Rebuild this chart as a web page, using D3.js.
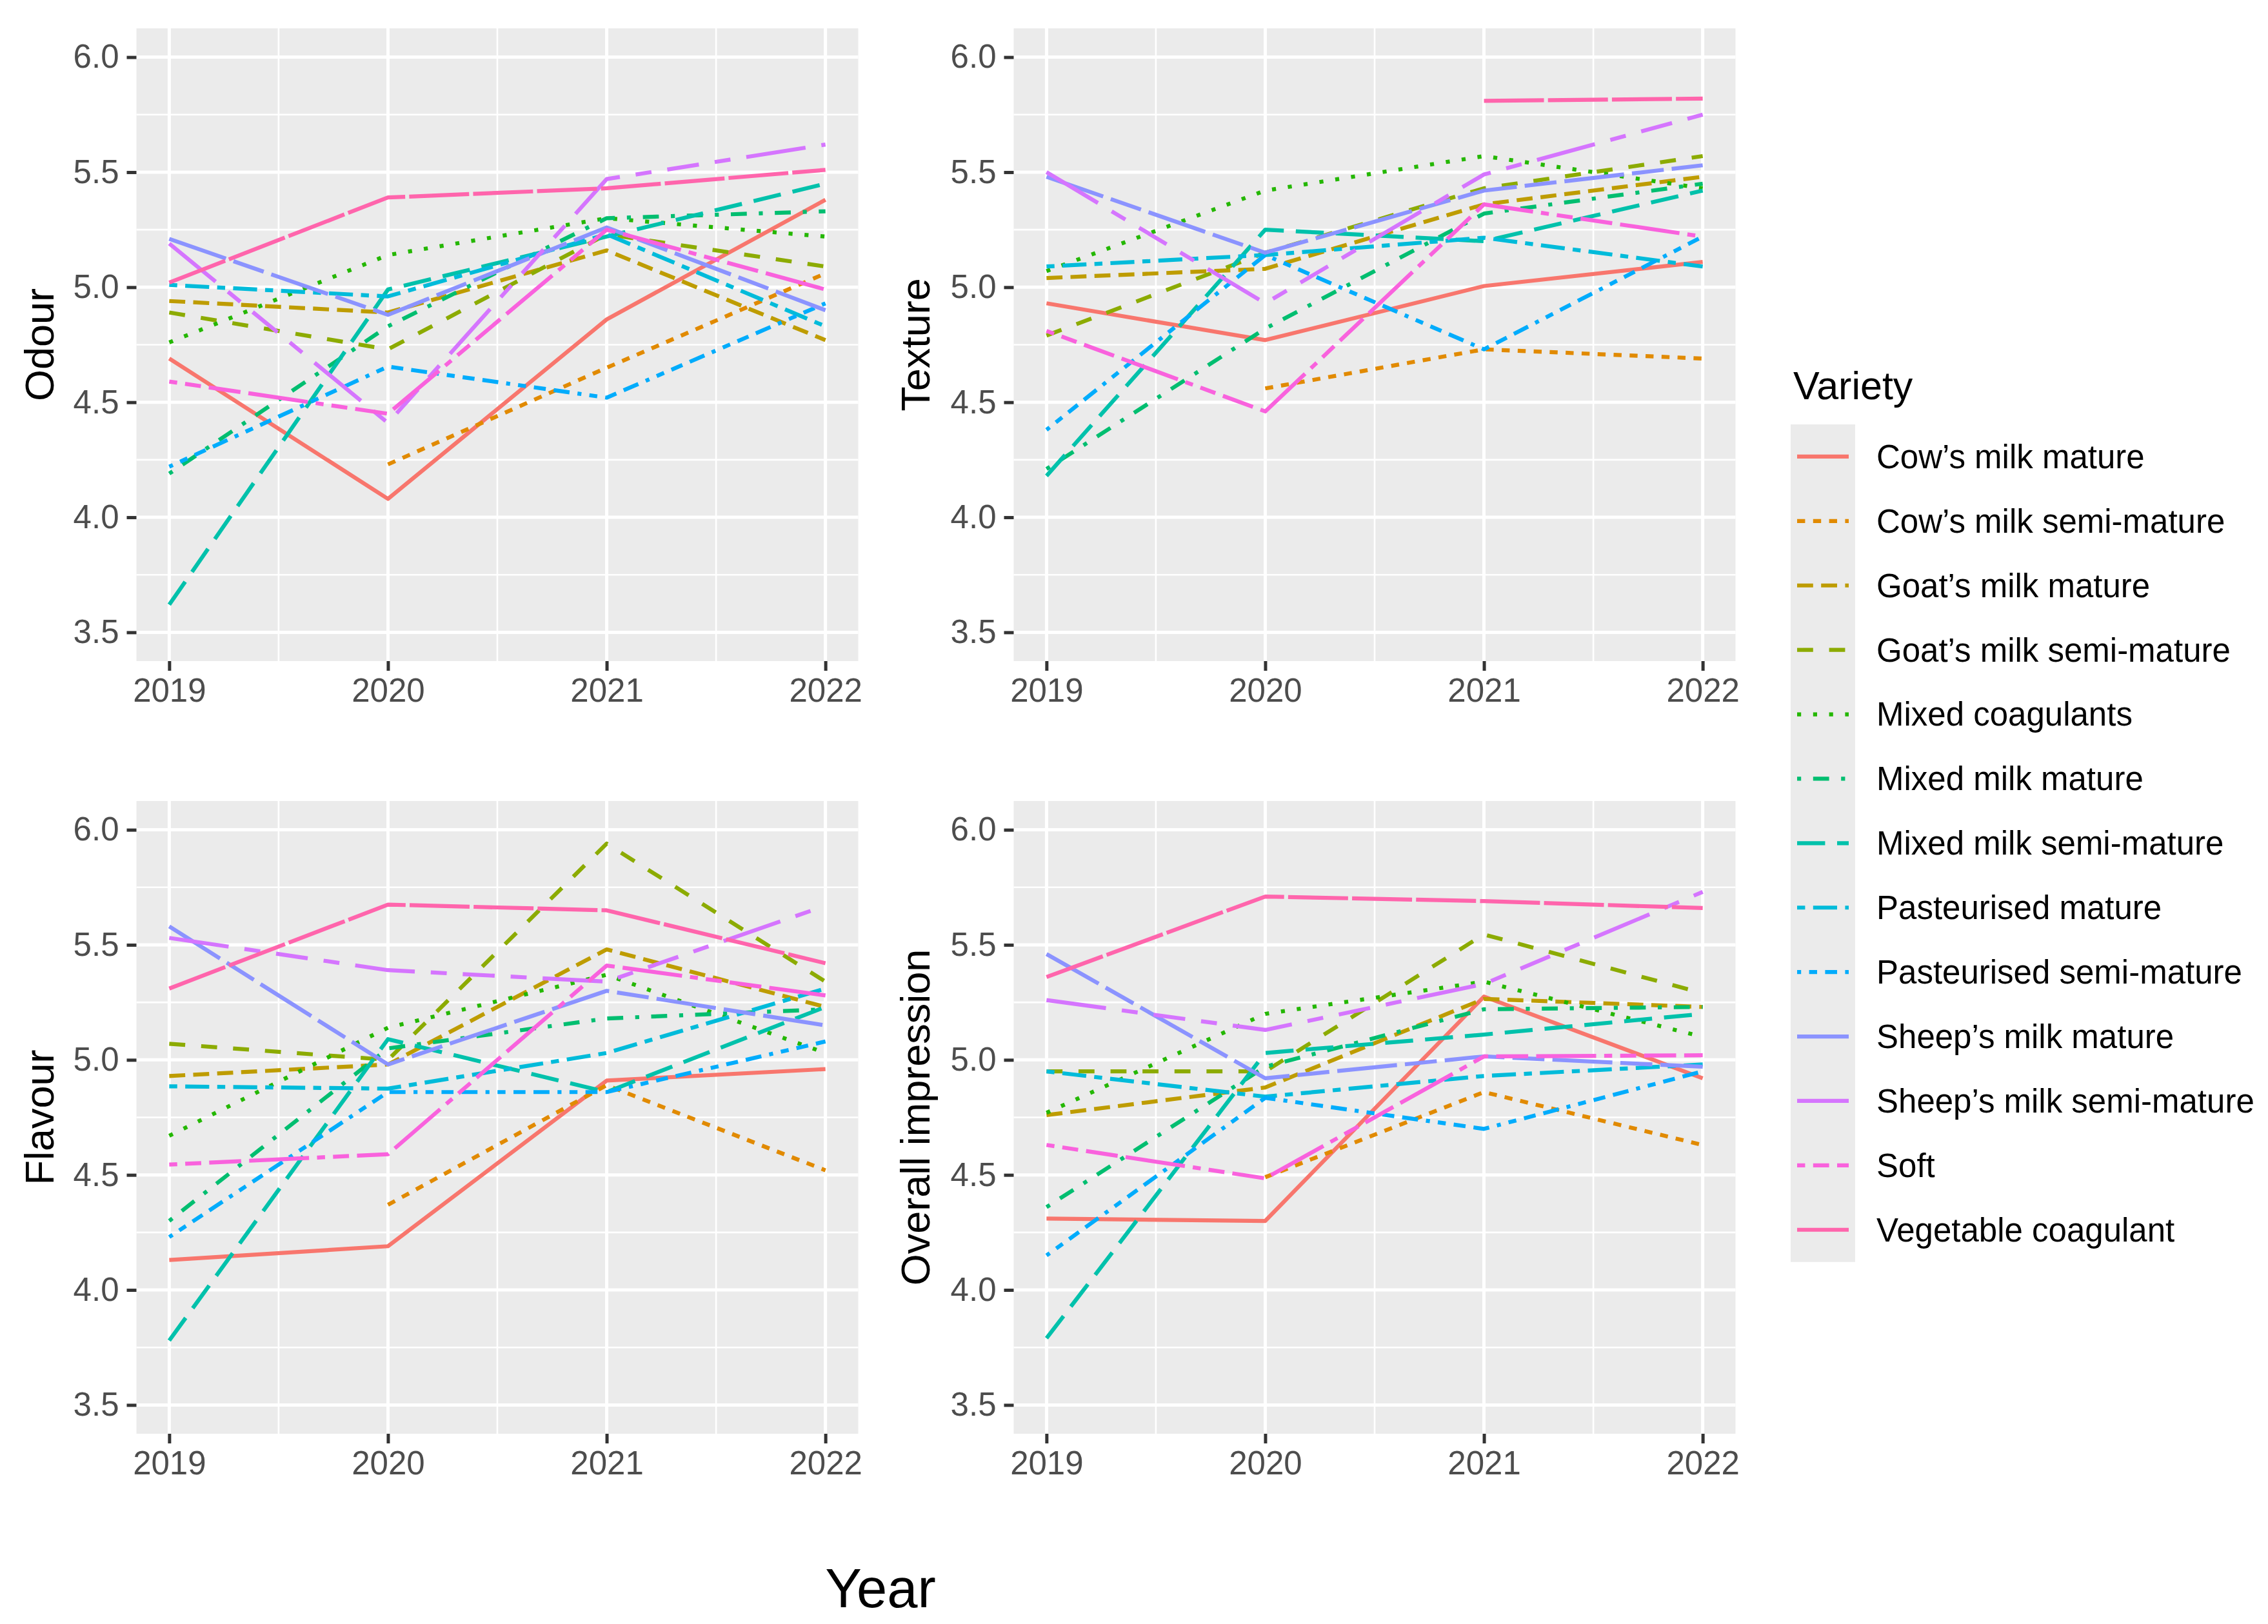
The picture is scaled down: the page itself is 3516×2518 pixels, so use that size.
<!DOCTYPE html>
<html>
<head>
<meta charset="utf-8">
<script src="https://cdn.jsdelivr.net/npm/d3@7"></script>
<style>
  body { margin: 0; background: #fff; }
  text { font-family: 'Liberation Sans', Arial, Helvetica, sans-serif; }
</style>
</head>
<body>
<svg id="chart" width="3516" height="2518"></svg>
<script>
// ---- data ----
var years = [2019, 2020, 2021, 2022];
var yTicks = [3.5, 4.0, 4.5, 5.0, 5.5, 6.0];

var varieties = ["Cow\u2019s milk mature", "Cow\u2019s milk semi-mature", "Goat\u2019s milk mature",
  "Goat\u2019s milk semi-mature", "Mixed coagulants", "Mixed milk mature", "Mixed milk semi-mature",
  "Pasteurised mature", "Pasteurised semi-mature", "Sheep\u2019s milk mature",
  "Sheep\u2019s milk semi-mature", "Soft", "Vegetable coagulant"];

// ggplot hue palette for 13 levels
var varietyColors = ['#F8766D', '#E18A00', '#BE9C00', '#8CAB00', '#24B700', '#00BE70', '#00C1AB',
  '#00BBDA', '#00ACFC', '#8B93FF', '#D575FE', '#F962DD', '#FF65AC'];

// ggplot default linetype sequence (hex dash codes)
var varietyLinetypes = ['solid', '22', '42', '44', '13', '1343', '73', '2262', '12223242',
  'F282', 'F4448444', '224282F2', 'F1'];

// one row per variety, one value per year (null = not assessed)
var odour = [
  [4.69, 4.08, 4.86, 5.38],
  [null, 4.23, 4.65, 5.06],
  [4.94, 4.89, 5.16, 4.77],
  [4.89, 4.73, 5.23, 5.09],
  [4.76, 5.14, 5.30, 5.22],
  [4.19, 4.83, 5.30, 5.33],
  [3.62, 4.99, 5.22, 5.45],
  [5.01, 4.96, 5.23, 4.83],
  [4.22, 4.655, 4.52, 4.93],
  [5.21, 4.88, 5.26, 4.90],
  [5.19, 4.41, 5.47, 5.62],
  [4.59, 4.45, 5.25, 4.99],
  [5.02, 5.39, 5.43, 5.51]
];
var texture = [
  [4.93, 4.77, 5.005, 5.11],
  [null, 4.56, 4.73, 4.69],
  [5.04, 5.08, 5.36, 5.48],
  [4.79, 5.15, 5.43, 5.57],
  [5.07, 5.42, 5.57, 5.43],
  [4.21, 4.82, 5.32, 5.45],
  [4.18, 5.25, 5.20, 5.42],
  [5.09, 5.14, 5.215, 5.09],
  [4.38, 5.14, 4.73, 5.22],
  [5.48, 5.15, 5.42, 5.53],
  [5.50, 4.93, 5.49, 5.75],
  [4.81, 4.46, 5.36, 5.22],
  [null, null, 5.81, 5.82]
];
var flavour = [
  [4.13, 4.19, 4.91, 4.96],
  [null, 4.37, 4.89, 4.52],
  [4.93, 4.98, 5.48, 5.23],
  [5.07, 5.00, 5.94, 5.34],
  [4.67, 5.14, 5.37, 5.03],
  [4.30, 5.05, 5.18, 5.22],
  [3.78, 5.09, 4.86, 5.23],
  [4.885, 4.875, 5.03, 5.31],
  [4.23, 4.86, 4.86, 5.08],
  [5.58, 4.98, 5.30, 5.15],
  [5.53, 5.39, 5.34, 5.67],
  [4.545, 4.59, 5.41, 5.28],
  [5.31, 5.675, 5.65, 5.42]
];
var overall = [
  [4.31, 4.30, 5.275, 4.92],
  [null, 4.49, 4.86, 4.63],
  [4.76, 4.88, 5.265, 5.23],
  [4.95, 4.95, 5.545, 5.29],
  [4.77, 5.20, 5.34, 5.10],
  [4.36, 4.97, 5.22, 5.23],
  [3.79, 5.03, 5.11, 5.20],
  [4.95, 4.84, 4.93, 4.98],
  [4.15, 4.835, 4.70, 4.95],
  [5.46, 4.92, 5.015, 4.97],
  [5.26, 5.13, 5.33, 5.73],
  [4.63, 4.485, 5.015, 5.02],
  [5.36, 5.71, 5.69, 5.66]
];

var attributeNames = ['Odour', 'Texture', 'Flavour', 'Overall impression'];
var attributeData = [odour, texture, flavour, overall];

// ---- layout ----
var LW = 6.2;                       // data line width, also the dash unit
var colX = [211.5, 1571.5], panelW = 1119;
var rowY = [44, 1242], panelH = 981;
var tickLen = 15, tickPad = 12;
var fontTick = 51, fontTitle = 63, fontLegend = 51;

function dashArray(lt) {
  if (lt === 'solid') return null;
  return lt.split('').map(function(c) { return parseInt(c, 16) * LW; }).join(' ');
}

var svg = d3.select('#chart');

attributeNames.forEach(function(name, p) {
  var col = p % 2, row = Math.floor(p / 2);
  var g = svg.append('g')
    .attr('transform', 'translate(' + colX[col] + ',' + rowY[row] + ')');

  var x = d3.scaleLinear().domain([2019 - 0.15, 2022 + 0.15]).range([0, panelW]);
  var y = d3.scaleLinear().domain([3.375, 6.125]).range([panelH, 0]);

  g.append('rect').attr('width', panelW).attr('height', panelH).attr('fill', '#EBEBEB');

  // minor grid
  [3.75, 4.25, 4.75, 5.25, 5.75].forEach(function(v) {
    g.append('line').attr('x1', 0).attr('x2', panelW).attr('y1', y(v)).attr('y2', y(v))
      .attr('stroke', '#fff').attr('stroke-width', 2.6);
  });
  [2019.5, 2020.5, 2021.5].forEach(function(v) {
    g.append('line').attr('y1', 0).attr('y2', panelH).attr('x1', x(v)).attr('x2', x(v))
      .attr('stroke', '#fff').attr('stroke-width', 2.6);
  });
  // major grid
  yTicks.forEach(function(v) {
    g.append('line').attr('x1', 0).attr('x2', panelW).attr('y1', y(v)).attr('y2', y(v))
      .attr('stroke', '#fff').attr('stroke-width', 5);
  });
  years.forEach(function(v) {
    g.append('line').attr('y1', 0).attr('y2', panelH).attr('x1', x(v)).attr('x2', x(v))
      .attr('stroke', '#fff').attr('stroke-width', 5);
  });

  // axes
  var yAxis = g.append('g')
    .call(d3.axisLeft(y).tickValues(yTicks).tickFormat(d3.format('.1f'))
      .tickSize(tickLen).tickPadding(tickPad));
  var xAxis = g.append('g').attr('transform', 'translate(0,' + panelH + ')')
    .call(d3.axisBottom(x).tickValues(years).tickFormat(d3.format('d'))
      .tickSize(tickLen).tickPadding(tickPad));
  [yAxis, xAxis].forEach(function(a) {
    a.select('.domain').remove();
    a.selectAll('.tick line').attr('stroke', '#333333').attr('stroke-width', 5);
    a.selectAll('.tick text').attr('fill', '#4D4D4D')
      .style('font-size', fontTick + 'px')
      .style('font-family', "'Liberation Sans', Arial, Helvetica, sans-serif");
  });

  // series
  var line = d3.line()
    .defined(function(d) { return d.v != null; })
    .x(function(d) { return x(d.year); })
    .y(function(d) { return y(d.v); });

  attributeData[p].forEach(function(vals, i) {
    var pts = vals.map(function(v, j) { return {year: years[j], v: v}; });
    g.append('path').datum(pts)
      .attr('d', line)
      .attr('fill', 'none')
      .attr('stroke', varietyColors[i])
      .attr('stroke-width', LW)
      .attr('stroke-linecap', 'butt')
      .attr('stroke-linejoin', 'round')
      .attr('stroke-dasharray', dashArray(varietyLinetypes[i]));
  });

  // y title
  var tx = col === 0 ? 83 : 1441;
  svg.append('text')
    .attr('transform', 'translate(' + tx + ',' + (rowY[row] + panelH / 2) + ') rotate(-90)')
    .attr('text-anchor', 'middle')
    .style('font-size', fontTitle + 'px')
    .attr('fill', '#000')
    .text(name);
});

// common x title
svg.append('text')
  .attr('x', 1365).attr('y', 2492)
  .attr('text-anchor', 'middle')
  .style('font-size', '85px')
  .attr('fill', '#000')
  .text('Year');

// ---- legend ----
var legX = 2776, legY = 658, keyW = 100, keyH = 99.9;
var legend = svg.append('g');
legend.append('text')
  .attr('x', 2780).attr('y', 619)
  .style('font-size', '61px')
  .attr('fill', '#000')
  .text('Variety');
legend.append('rect')
  .attr('x', legX).attr('y', legY)
  .attr('width', keyW).attr('height', keyH * varieties.length)
  .attr('fill', '#EBEBEB');

varieties.forEach(function(v, i) {
  var cy = legY + keyH * i + keyH / 2;
  legend.append('line')
    .attr('x1', legX + keyW * 0.1).attr('x2', legX + keyW * 0.9)
    .attr('y1', cy).attr('y2', cy)
    .attr('stroke', varietyColors[i])
    .attr('stroke-width', LW)
    .attr('stroke-linecap', 'butt')
    .attr('stroke-dasharray', dashArray(varietyLinetypes[i]));
  legend.append('text')
    .attr('x', 2909).attr('y', cy)
    .attr('dy', '0.35em')
    .style('font-size', fontLegend + 'px')
    .attr('fill', '#000')
    .text(v);
});
</script>
</body>
</html>
